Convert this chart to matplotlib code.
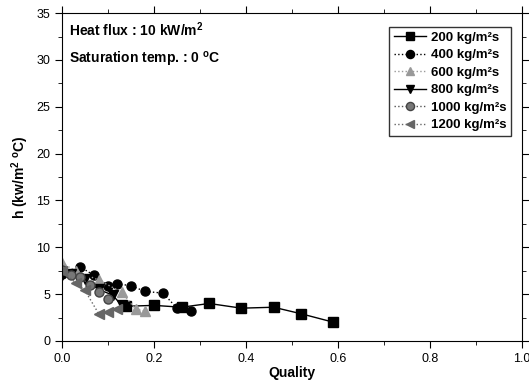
import numpy as np
import matplotlib
matplotlib.use('Agg')
import matplotlib.pyplot as plt
from matplotlib.ticker import MultipleLocator, FormatStrFormatter

plt.rcParams['font.family'] = ['Liberation Sans', 'DejaVu Sans']
plt.rcParams['mathtext.default'] = 'regular'

# quality vs heat transfer coefficient for each mass flux
x200 = [0.14, 0.20, 0.26, 0.32, 0.39, 0.46, 0.52, 0.59]
h200 = [3.7, 3.8, 3.6, 4.0, 3.5, 3.6, 2.9, 2.0]
x400 = [0.0, 0.04, 0.07, 0.10, 0.12, 0.15, 0.18, 0.22, 0.25, 0.28]
h400 = [7.2, 7.9, 7.0, 5.9, 6.1, 5.9, 5.3, 5.1, 3.5, 3.2]
x600 = [0.0, 0.03, 0.08, 0.13, 0.16, 0.18]
h600 = [8.3, 7.5, 6.5, 5.2, 3.4, 3.2]
x800 = [0.0, 0.02, 0.05, 0.08, 0.11, 0.13]
h800 = [7.0, 7.2, 6.6, 5.5, 4.9, 3.8]
x1000 = [0.0, 0.02, 0.04, 0.06, 0.08, 0.10]
h1000 = [7.6, 7.0, 6.8, 6.0, 5.2, 4.5]
x1200 = [0.0, 0.03, 0.05, 0.08, 0.10, 0.12]
h1200 = [7.5, 6.2, 5.4, 2.9, 3.1, 3.4]

fig = plt.figure(figsize=(5.29, 3.87), dpi=100)
ax = fig.add_axes([0.117, 0.119, 0.870, 0.847])

ax.plot(x200, h200, '-', color='black', marker='s', ms=6.5, lw=1, label='200 kg/m²s')
ax.plot(x400, h400, ':', color='black', marker='o', ms=6.5, lw=1, label='400 kg/m²s')
ax.plot(x600, h600, ':', color='#999999', marker='^', ms=6.5, lw=1, label='600 kg/m²s')
ax.plot(x800, h800, '-', color='black', marker='v', ms=6.5, lw=1, label='800 kg/m²s')
ax.plot(x1000, h1000, ':', color='#555555', marker='o', ms=6.5, lw=1, mfc='#777777',
        mec='#444444', label='1000 kg/m²s')
ax.plot(x1200, h1200, ':', color='#666666', marker='<', ms=6.5, lw=1, label='1200 kg/m²s')

ax.set_xlim(0, 1.0)
ax.set_ylim(0, 35)
ax.xaxis.set_major_locator(MultipleLocator(0.2))
ax.xaxis.set_minor_locator(MultipleLocator(0.1))
ax.xaxis.set_major_formatter(FormatStrFormatter('%.1f'))
ax.yaxis.set_major_locator(MultipleLocator(5))
ax.yaxis.set_minor_locator(MultipleLocator(2.5))
ax.tick_params(which='both', direction='out', top=True, right=True, labelsize=9)
ax.tick_params(which='major', length=5)
ax.tick_params(which='minor', length=3)

ax.set_xlabel('Quality', fontsize=10, fontweight='bold', labelpad=1)
ax.set_ylabel('h (kw/m$^2$ $^o$C)', fontsize=10, fontweight='bold', labelpad=4)

ax.text(0.015, 33.2, 'Heat flux : 10 kW/m$^2$', fontsize=10, fontweight='bold', va='center')
ax.text(0.015, 30.0, 'Saturation temp. : 0 $^o$C', fontsize=10, fontweight='bold', va='center')

leg = ax.legend(loc='upper right', fontsize=9.5, frameon=True, fancybox=False,
                edgecolor='black', handlelength=2.4, handletextpad=0.4, borderpad=0.35,
                labelspacing=0.4, markerscale=0.9, bbox_to_anchor=(0.99, 0.978))
for t in leg.get_texts():
    t.set_fontweight('bold')

fig.savefig('out.png', dpi=100)
